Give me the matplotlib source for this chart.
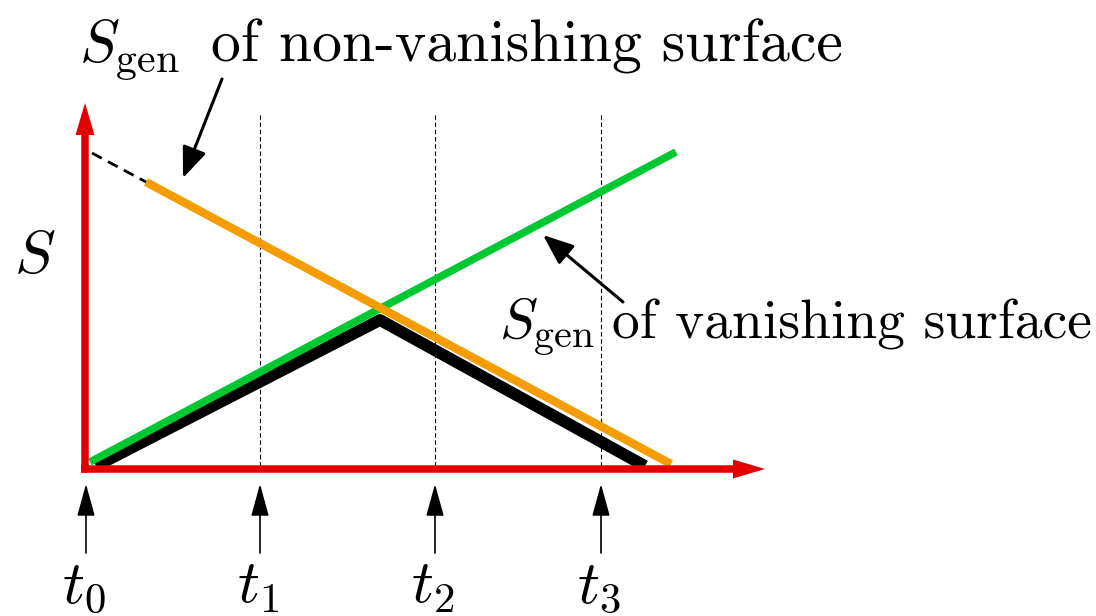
import matplotlib
matplotlib.use('Agg')
import matplotlib.pyplot as plt

plt.rcParams['mathtext.fontset'] = 'cm'

RED = '#e30000'
GREEN = '#00c832'
ORANGE = '#f59c00'

# time marks (units: 100 px)
tick_times = [0.0, 1.74, 3.49, 5.15]
tick_labels = [r'$t_0$', r'$t_1$', r'$t_2$', r'$t_3$']

# S_gen of vanishing surface (green)
green_t = [0.04, 5.90]
green_s = [0.04, 3.14]

# S_gen of non-vanishing surface (orange) and its dashed extrapolation
orange_t = [0.60, 5.85]
orange_s = [2.84, 0.02]
dash_t = [0.06, 0.60]
dash_s = [3.13, 2.84]

# actual entropy (black)
black_t = [0.10, 2.94, 5.59]
black_s = [0.00, 1.46, 0.00]

vline_top = 3.53

fig = plt.figure(figsize=(10.96, 6.16), dpi=100)
ax = fig.add_axes([0, 0, 1, 1])
ax.set_xlim(-0.86, 10.10)
ax.set_ylim(-1.50, 4.66)
ax.axis('off')

for t in tick_times[1:]:
    ax.plot([t, t], [0, vline_top], color='black', lw=0.8, ls=(0, (4, 2.5)), zorder=1)

ax.plot(black_t, black_s, color='black', lw=8.5, solid_capstyle='butt', zorder=2)
ax.plot(green_t, green_s, color=GREEN, lw=5.5, solid_capstyle='butt', zorder=3)
ax.plot(orange_t, orange_s, color=ORANGE, lw=6, solid_capstyle='butt', zorder=4)
ax.plot(dash_t, dash_s, color='black', lw=2, ls=(0, (4, 2.5)), zorder=4)

# red axes
ax.arrow(-0.01, -0.065, 0, 3.695, width=0.075, head_width=0.19, head_length=0.32,
         length_includes_head=True, color=RED, lw=0, zorder=5)
ax.arrow(-0.05, -0.03, 6.84, 0, width=0.075, head_width=0.19, head_length=0.32,
         length_includes_head=True, color=RED, lw=0, zorder=5)

# arrows below the time axis
for t, lab in zip(tick_times, tick_labels):
    ax.annotate('', xy=(t, -0.18), xytext=(t, -0.87),
                arrowprops=dict(arrowstyle='-|>,head_length=0.8,head_width=0.22',
                                mutation_scale=25, color='black', lw=1.2,
                                shrinkA=0, shrinkB=0))
    ax.text(t - 0.02, -1.37, lab, fontsize=44, ha='center', va='baseline')

ax.text(-0.51, 1.93, r'$S$', fontsize=44, ha='center', va='baseline')

# annotations
ax.annotate('', xy=(0.97, 2.88), xytext=(1.36, 3.87),
            arrowprops=dict(arrowstyle='-|>,head_length=0.75,head_width=0.3',
                            mutation_scale=25, color='black', lw=2.2,
                            shrinkA=0, shrinkB=0))
ax.annotate('', xy=(4.57, 2.31), xytext=(5.37, 1.64),
            arrowprops=dict(arrowstyle='-|>,head_length=0.75,head_width=0.3',
                            mutation_scale=25, color='black', lw=2.2,
                            shrinkA=0, shrinkB=0))

ax.text(-0.07, 4.04, r'$S_{\rm gen}$', fontsize=43, ha='left', va='baseline')
ax.text(1.25, 4.04, 'of non-vanishing surface', fontsize=43,
        family='cmr10', ha='left', va='baseline')
ax.text(4.13, 1.28, r'$S_{\rm gen}$', fontsize=41, ha='left', va='baseline')
ax.text(5.26, 1.28, 'of vanishing surface', fontsize=40,
        family='cmr10', ha='left', va='baseline')

fig.savefig('out.png', dpi=100)
